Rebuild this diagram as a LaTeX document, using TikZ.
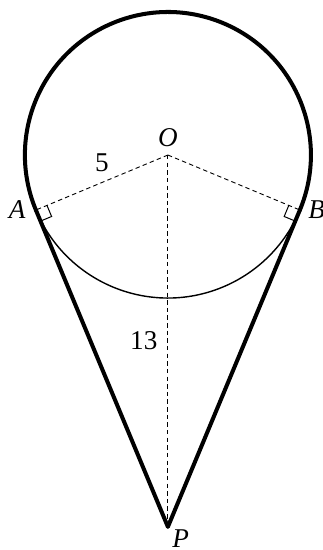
\documentclass[tikz,border=0pt]{standalone}
\usepackage{fontspec}
\setmainfont{Liberation Serif}
\usetikzlibrary{calc,positioning}

\tikzset{
  trait/.style={line width=2pt, line cap=round, line join=round},
  fin/.style={line width=0.7pt},
  pointille/.style={dashed, line width=0.45pt, dash pattern=on 2.2pt off 1.6pt},
  etiquette/.style={font=\fontsize{13.5}{16}\selectfont\itshape, inner sep=0pt},
  nombre/.style={font=\fontsize{13.5}{16}\selectfont, inner sep=0pt}
}

\begin{document}
\begin{tikzpicture}[scale=0.5]
            \useasboundingbox (-5.87,-13.81) rectangle (5.42,5.42);

            % Points de la figure
            \coordinate (O) at (0,0);
            \coordinate (P) at (0,-13);
            \coordinate (A) at (202.62:5);
            \coordinate (B) at (-22.62:5);

            % Rayons et segment OP
            \draw[pointille] (O) -- (A) node[nombre, pos=0.5, above=5pt] (cinq) {5};
            \draw[pointille] (O) -- (B);
            \draw[pointille] (O) -- (P) node[nombre, pos=0.5, left=5pt] (treize) {13};

            % Grand arc (epais) et petit arc (fin)
            \draw[trait] (B) arc (-22.62:202.62:5);
            \draw[fin] (A) arc (202.62:337.38:5);

            % Tangentes
            \draw[trait] (A) -- (P) -- (B);

            % Angles droits
            \foreach \T in {A,B} {
                \coordinate (u\T) at ($(\T)!0.42cm!(O)$);
                \coordinate (v\T) at ($(\T)!0.42cm!(P)$);
                \draw[line width=0.5pt] (u\T) -- ($(u\T)+(v\T)-(\T)$) -- (v\T);
            }

            % Noms des points
            \node[etiquette, above=4pt] (nomO) at (O) {O};
            \node[etiquette, left=5pt] (nomA) at (A) {A};
            \node[etiquette, right=4pt] (nomB) at (B) {B};
            \node[etiquette, below right=1pt and 2pt] (nomP) at (P) {P};
        \end{tikzpicture}
\end{document}
